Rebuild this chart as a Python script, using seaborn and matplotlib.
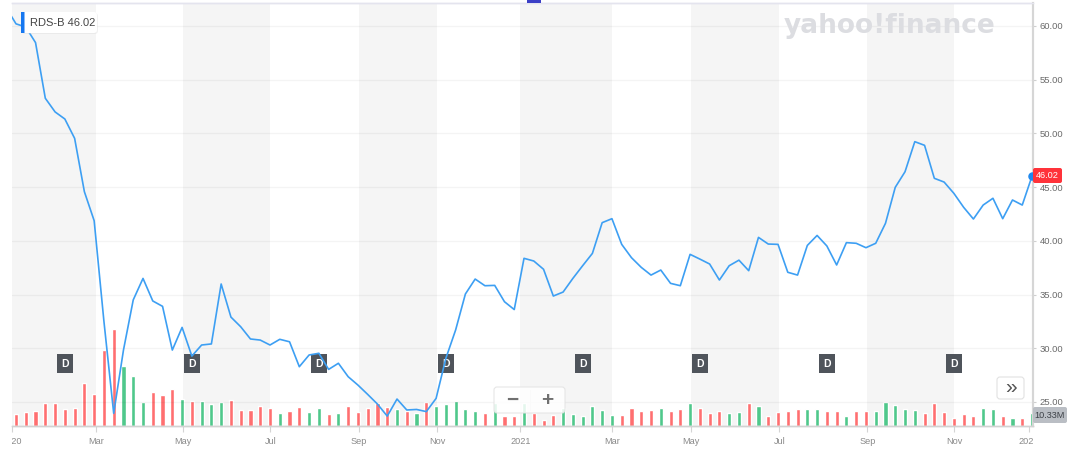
import numpy as np
import pandas as pd
import matplotlib
matplotlib.use("Agg")
import matplotlib.pyplot as plt
import seaborn as sns
from matplotlib.patches import FancyBboxPatch, Rectangle
from matplotlib.transforms import Bbox, TransformedBbox, blended_transform_factory

# ---------------- data (weekly closes / volumes, RDS-B) ----------------
ticker = "RDS-B"
last_price_label = "46.02"
last_volume_label = "10.33M"

close = [61.7, 60.2, 59.9, 58.45, 53.27, 52.0, 51.34, 49.54, 44.57, 41.87,
         32.5, 23.94, 29.83, 34.5, 36.5, 34.4, 33.9, 29.83, 31.94, 29.27,
         30.3, 30.4, 35.98, 32.9, 32.0, 30.86, 30.76, 30.3, 30.83, 30.6,
         28.28, 29.37, 29.53, 28.03, 28.6, 27.35, 26.57, 25.7, 24.8, 23.68,
         25.27, 24.25, 24.3, 24.1, 25.33, 29.06, 31.7, 35.05, 36.44, 35.82,
         35.85, 34.33, 33.6, 38.37, 38.12, 37.35, 34.86, 35.23, 36.5, 37.68,
         38.83, 41.69, 42.06, 39.67, 38.43, 37.53, 36.81, 37.28, 36.04, 35.82,
         38.74, 38.3, 37.84, 36.35, 37.68, 38.2, 37.22, 40.32, 39.7, 39.67,
         37.07, 36.81, 39.57, 40.5, 39.52, 37.75, 39.83, 39.77, 39.36, 39.77,
         41.63, 44.98, 46.43, 49.23, 48.89, 45.82, 45.47, 44.42, 43.12, 42.03,
         43.33, 43.96, 42.06, 43.8, 43.33, 46.02]

volume_m = [9.0, 9.8, 11.1, 12.4, 18.5, 18.5, 14.1, 14.9, 34.7, 25.8,
            61.8, 78.7, 49.0, 40.4, 19.3, 27.9, 25.2, 30.3, 21.7, 20.1,
            20.6, 17.9, 19.3, 21.4, 13.3, 13.3, 16.5, 14.9, 10.6, 12.0,
            15.7, 11.4, 14.9, 10.0, 10.6, 16.3, 11.6, 14.6, 18.5, 15.7,
            13.8, 12.4, 10.3, 19.3, 16.3, 17.9, 20.6, 13.8, 12.4, 10.3,
            18.5, 8.1, 8.1, 19.0, 10.3, 5.1, 8.9, 14.4, 9.8, 8.1,
            16.3, 13.0, 8.9, 8.9, 14.9, 12.4, 13.3, 14.9, 12.4, 13.8,
            18.5, 14.6, 10.3, 12.4, 10.3, 11.6, 18.5, 16.3, 8.1, 11.1,
            12.4, 13.8, 13.8, 13.8, 12.4, 12.4, 8.1, 11.8, 12.4, 12.4,
            19.8, 17.1, 13.8, 13.0, 10.3, 19.0, 11.1, 6.5, 9.8, 8.1,
            14.6, 13.8, 8.1, 6.5, 6.5, 10.33]

dividend_weeks = [6, 19, 32, 45, 59, 71, 84, 97]

month_labels = ["2020", "Mar", "May", "Jul", "Sep", "Nov", "2021",
                "Mar", "May", "Jul", "Sep", "Nov", "2022"]
month_tick_pos = [0.6, 9.16, 18.13, 27.03, 36.08, 44.10, 52.62,
                  62.04, 70.13, 79.13, 88.14, 97.05, 104.69]

price_ticks = [25, 30, 35, 40, 45, 50, 55, 60]

df = pd.DataFrame({"week": np.arange(len(close)), "close": close, "volume": volume_m})
df["up"] = df["close"].diff().fillna(-1) >= 0

# ---------------- figure ----------------
W, H = 1083, 454
sns.set_theme(style="white")
plt.rcParams['font.family'] = ['Liberation Sans', 'DejaVu Sans']

fig = plt.figure(figsize=(W / 100, H / 100), dpi=100)
L, R, T, B = 12, 1033, 3, 426
ax = fig.add_axes([L / W, 1 - B / H, (R - L) / W, (B - T) / H])
ax2 = ax.twinx()
ax2.patch.set_visible(False)
ax.set_facecolor("white")

# alternating month bands
for j in range(0, len(month_tick_pos) - 1, 2):
    ax.axvspan(month_tick_pos[j] - (0.2 if j == 0 else 0), month_tick_pos[j + 1],
               color="#f5f5f5", lw=0, zorder=0)

# volume bars
colors = np.where(df["up"], "#4fc88b", "#ff6f70")
ax.bar(df["week"], df["volume"], width=0.42, color=colors, zorder=2)
ax.set_ylim(0, 423 * 10.33 / 12.7)
ax.set_yticks([])

# price line
ax2.set_ylim(22.76, 62.14)
for v in price_ticks:
    ax2.axhline(v, color="#000000", alpha=0.045, lw=1, zorder=1)
sns.lineplot(data=df, x="week", y="close", ax=ax2, color="#3d9ff3", lw=1.2, zorder=5)
ax2.scatter([df["week"].iloc[-1]], [df["close"].iloc[-1]], s=26, color="#1f88ee", zorder=6,
            clip_on=False)
ax2.set_yticks(price_ticks)
ax2.set_yticklabels([f"{v:.2f}" for v in price_ticks])
ax2.set_xlabel("")
ax2.set_ylabel("")
ax2.tick_params(axis="y", right=True, length=2, width=0.8, color="#cfcfcf",
                labelsize=6.8, labelcolor="#6a6a6a", pad=3)

ax.set_xlim(0.59, 105.1)
ax.set_xticks(month_tick_pos)
ax.set_xticklabels(month_labels)
ax.tick_params(axis="x", bottom=True, length=4, width=0.8, color="#d4d4d4",
               labelsize=6.6, labelcolor="#8a8a8a", pad=4)

for a in (ax, ax2):
    a.spines["left"].set_visible(False)
    a.spines["top"].set_color("#e4e4ee")
    a.spines["top"].set_linewidth(1.0)
    a.spines["bottom"].set_color("#d2d2d2")
    a.spines["bottom"].set_linewidth(1.0)
    a.spines["right"].set_color("#d6d6d6")
    a.spines["right"].set_linewidth(1.5)

# dividend markers
trans = blended_transform_factory(ax.transData, ax.transAxes)
for wk in dividend_weeks:
    ax.text(wk, 0.1473, "D", transform=trans, ha="center", va="center",
            fontsize=7.5, fontweight="bold", color="white", zorder=7,
            bbox=dict(boxstyle="square,pad=0.42", fc="#4f545b", ec="none"))

# ---------------- overlays in pixel coordinates ----------------
def px(x, y):
    return (x / 100, (H - y) / 100)

def box(x0, y0, x1, y1, fc, ec="none", r=0.0, alpha=1.0, lw=0.8, z=3):
    p = FancyBboxPatch(px(x0, y1), (x1 - x0) / 100, (y1 - y0) / 100,
                       boxstyle=f"round,pad=0,rounding_size={r}",
                       transform=fig.dpi_scale_trans, fc=fc, ec=ec, lw=lw,
                       alpha=alpha, zorder=z)
    fig.patches.append(p)
    return p

# watermark
fig.text(*px(890, 26), "yahoo!finance", transform=fig.dpi_scale_trans,
         ha="center", va="center", fontsize=19, fontweight="bold",
         color="#dcdde1", family=["DejaVu Sans"], zorder=1)

# tooltip
box(22, 13, 98, 34, fc="#d8d8d8", r=0.03, alpha=0.35)
box(21, 12, 97, 33, fc="white", r=0.03)
box(21, 12, 24.5, 33, fc="#1677f0", r=0.0, z=4)
fig.text(*px(30, 23), f"{ticker} {last_price_label}", transform=fig.dpi_scale_trans,
         ha="left", va="center", fontsize=8.0, color="#444444", zorder=5)

# right labels
box(1033, 168, 1062, 183, fc="#ff333a", r=0.02)
fig.text(*px(1047.5, 175.5), last_price_label, transform=fig.dpi_scale_trans,
         ha="center", va="center", fontsize=6.6, color="white", zorder=5)
box(1033, 407, 1067, 423, fc="#babec4", r=0.02)
fig.text(*px(1050, 415), last_volume_label, transform=fig.dpi_scale_trans,
         ha="center", va="center", fontsize=6.6, color="#3d4147", zorder=5)

# zoom buttons
box(494, 387, 565, 413, fc="white", ec="#e2e2e2", r=0.03, alpha=0.85)
fig.lines.append(plt.Line2D([530 / 100, 530 / 100], [(H - 390) / 100, (H - 410) / 100],
                            transform=fig.dpi_scale_trans, color="#e2e2e2", lw=0.8))
fig.text(*px(512, 400), "−", transform=fig.dpi_scale_trans, ha="center", va="center",
         fontsize=15, fontweight="bold", color="#707070", zorder=5)
fig.text(*px(547, 400), "+", transform=fig.dpi_scale_trans, ha="center", va="center",
         fontsize=15, fontweight="bold", color="#707070", zorder=5)
box(997, 377, 1024, 399, fc="white", ec="#e2e2e2", r=0.03)
fig.text(*px(1010.5, 387.5), "»", transform=fig.dpi_scale_trans, ha="center", va="center",
         fontsize=15, color="#555555", zorder=5)

# small top indicator
fig.patches.append(Rectangle(px(527, 3), 0.14, 0.03, transform=fig.dpi_scale_trans,
                             fc="#3b3fc6", ec="none", zorder=4))

# clip x tick labels to the plot's horizontal extent
fig.canvas.draw()
clipbox = TransformedBbox(Bbox([[L / W, 0], [R / W, 1]]), fig.transFigure)
for lbl in ax.get_xticklabels():
    lbl.set_clip_box(clipbox)
    lbl.set_clip_on(True)

fig.savefig("out.png", dpi=100)
